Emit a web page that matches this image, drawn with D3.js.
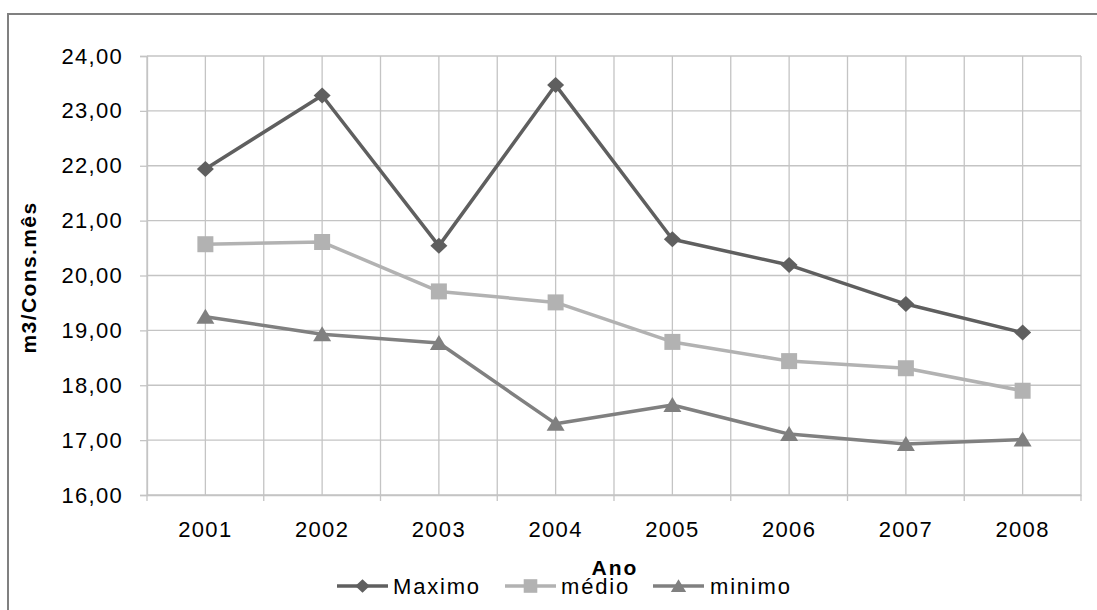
<!DOCTYPE html>
<html>
<head>
<meta charset="utf-8">
<script src="https://cdn.jsdelivr.net/npm/d3@7/dist/d3.min.js"></script>
<style>
  html, body { margin: 0; padding: 0; background: #fff; }
  svg { display: block; }
  text { font-family: "Liberation Sans", Arial, sans-serif; fill: #000; }
</style>
</head>
<body>
<svg id="chart" width="1097" height="610"></svg>
<script>
// Consumo por ligação (m3/Cons.mês), 2001–2008
const years = ["2001", "2002", "2003", "2004", "2005", "2006", "2007", "2008"];
const maximo = [21.94, 23.28, 20.54, 23.47, 20.66, 20.19, 19.48, 18.96];
const medio  = [20.57, 20.61, 19.71, 19.51, 18.79, 18.44, 18.31, 17.90];
const minimo = [19.25, 18.93, 18.77, 17.30, 17.64, 17.11, 16.93, 17.01];
const yTicks = [16, 17, 18, 19, 20, 21, 22, 23, 24];
const seriesNames = ["Maximo", "médio", "minimo"];

const series = [
  { name: seriesNames[0], values: maximo, color: "#5f5f5f", shape: "diamond" },
  { name: seriesNames[1], values: medio,  color: "#b2b2b2", shape: "square" },
  { name: seriesNames[2], values: minimo, color: "#808080", shape: "triangle" }
];

const svg = d3.select("#chart");
const W = 1097, H = 610;
const plot = { left: 147, top: 56, right: 1081, bottom: 495 };

// outer frame (top and left edges visible)
svg.append("path")
  .attr("d", `M8,${H} L8,14 L${W},14`)
  .attr("fill", "none")
  .attr("stroke", "#808080")
  .attr("stroke-width", 2);

const x = d3.scaleBand().domain(years).range([plot.left, plot.right]).paddingInner(0).paddingOuter(0);
const xc = d => x(d) + x.bandwidth() / 2;
const y = d3.scaleLinear().domain([16, 24]).range([plot.bottom, plot.top]);

const grid = svg.append("g").attr("stroke", "#c4c4c4").attr("stroke-width", 1.3);
// horizontal gridlines
grid.selectAll("line.h").data(yTicks).join("line")
  .attr("x1", plot.left).attr("x2", plot.right)
  .attr("y1", d => y(d)).attr("y2", d => y(d));
// vertical gridlines at category centers and band boundaries
const bounds = years.map(d => x(d)).concat([plot.right]);
grid.selectAll("line.vb").data(bounds).join("line")
  .attr("x1", d => d).attr("x2", d => d)
  .attr("y1", plot.top).attr("y2", plot.bottom + 6);
grid.selectAll("line.vc").data(years).join("line")
  .attr("x1", d => xc(d)).attr("x2", d => xc(d))
  .attr("y1", plot.top).attr("y2", plot.bottom);

// y axis
const yAxis = svg.append("g")
  .attr("transform", `translate(${plot.left},0)`)
  .call(d3.axisLeft(y).tickValues(yTicks).tickSize(7).tickPadding(17)
    .tickFormat(d => d3.format(".2f")(d).replace(".", ",")));
yAxis.select(".domain").attr("stroke", "#c4c4c4").attr("stroke-width", 1.3);
yAxis.selectAll(".tick line").attr("stroke", "#c4c4c4").attr("stroke-width", 1.3);
yAxis.selectAll(".tick text")
  .attr("font-size", 22).attr("letter-spacing", "1.3px")
  .attr("font-family", "Liberation Sans, Arial, sans-serif").attr("fill", "#000");

// x axis labels
const xAxis = svg.append("g")
  .attr("transform", `translate(0,${plot.bottom})`)
  .call(d3.axisBottom(x).tickSize(0).tickPadding(26));
xAxis.select(".domain").attr("stroke", "#c4c4c4").attr("stroke-width", 1.3);
xAxis.selectAll(".tick text")
  .attr("font-size", 22).attr("letter-spacing", "1.3px")
  .attr("font-family", "Liberation Sans, Arial, sans-serif").attr("fill", "#000");

// axis titles
svg.append("text")
  .attr("transform", `translate(36,${(plot.top + plot.bottom) / 2 + 2}) rotate(-90)`)
  .attr("text-anchor", "middle")
  .attr("font-size", 21).attr("font-weight", "bold").attr("letter-spacing", "1.4px")
  .text("m3/Cons.mês");
svg.append("text")
  .attr("x", (plot.left + plot.right) / 2 + 1).attr("y", 575)
  .attr("text-anchor", "middle")
  .attr("font-size", 21).attr("font-weight", "bold").attr("letter-spacing", "2px")
  .text("Ano");

// marker shapes
function marker(shape) {
  if (shape === "diamond") return "M0,-8 L8.5,0 L0,8 L-8.5,0 Z";
  if (shape === "square") return "M-8,-8 L8,-8 L8,8 L-8,8 Z";
  return "M0,-8 L9,7 L-9,7 Z";
}

const line = d3.line().x((d, i) => xc(years[i])).y(d => y(d));

series.forEach(s => {
  svg.append("path")
    .attr("d", line(s.values))
    .attr("fill", "none")
    .attr("stroke", s.color)
    .attr("stroke-width", 3.5)
    .attr("stroke-linejoin", "round");
  svg.selectAll(null).data(s.values).join("path")
    .attr("d", marker(s.shape))
    .attr("transform", (d, i) => `translate(${xc(years[i])},${y(d)})`)
    .attr("fill", s.color);
});

// legend
const legendItems = [
  { lx: 337, tx: 393 },
  { lx: 505, tx: 561 },
  { lx: 653, tx: 710 }
];
const ly = 586;
series.forEach((s, i) => {
  const g = svg.append("g");
  g.append("line")
    .attr("x1", legendItems[i].lx).attr("x2", legendItems[i].lx + 51)
    .attr("y1", ly).attr("y2", ly)
    .attr("stroke", s.color).attr("stroke-width", 3.5);
  g.append("path")
    .attr("d", marker(s.shape))
    .attr("transform", `translate(${legendItems[i].lx + 25.5},${ly}) scale(0.85)`)
    .attr("fill", s.color);
  g.append("text")
    .attr("x", legendItems[i].tx).attr("y", ly + 8)
    .attr("font-size", 22).attr("letter-spacing", "1.8px")
    .text(s.name);
});
</script>
</body>
</html>
